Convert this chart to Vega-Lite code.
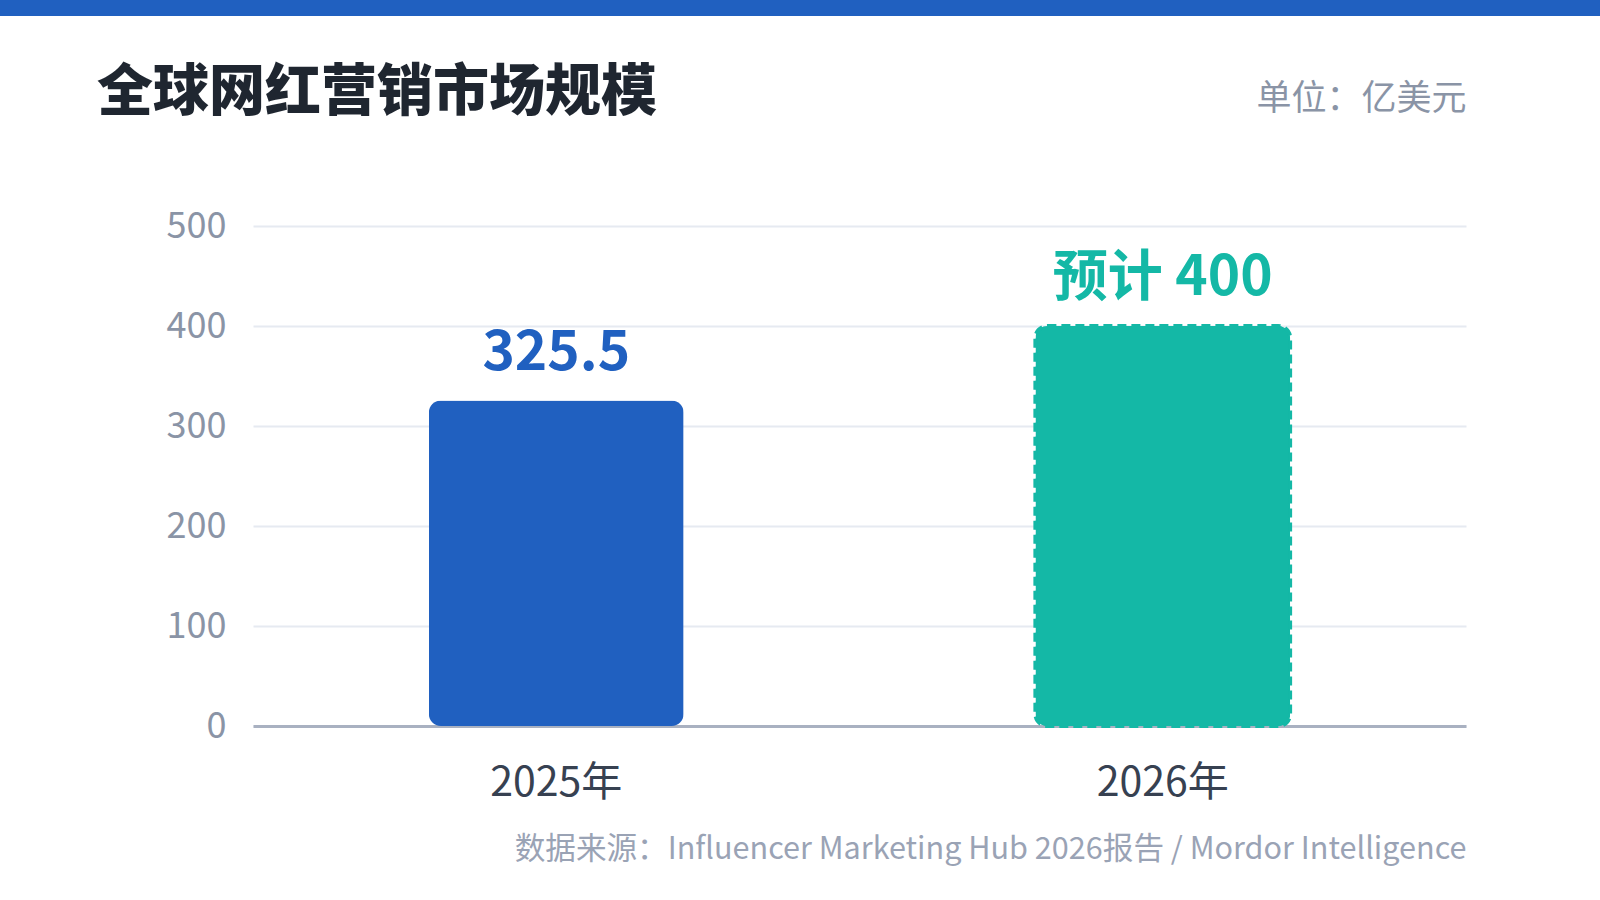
{
  "$schema": "https://vega.github.io/schema/vega-lite/v6.json",
  "description": "全球网红营销市场规模, 2025年与2026年(预计), 单位亿美元",
  "autosize": {"type": "none"},
  "padding": {"left": 253, "top": 226, "right": 134, "bottom": 174},
  "width": 1213,
  "height": 500,
  "background": "white",
  "title": {
    "text": "全球网红营销市场规模",
    "anchor": "start",
    "frame": "group",
    "dx": -156,
    "offset": -122,
    "fontSize": 56,
    "fontWeight": 900,
    "color": "#1F2630",
    "font": "Noto Sans CJK SC"
  },
  "data": {
    "values": [
      {"year": "2025年", "value": 325.5, "status": "实际", "label": "325.5"},
      {"year": "2026年", "value": 400, "status": "预计", "label": "预计 400"}
    ]
  },
  "config": {
    "font": "Noto Sans CJK SC",
    "view": {"stroke": null}
  },
  "encoding": {
    "x": {
      "field": "year",
      "type": "nominal",
      "sort": null,
      "scale": {"paddingInner": 0.58, "paddingOuter": 0.29},
      "axis": {
        "title": "数据来源：Influencer Marketing Hub 2026报告 / Mordor Intelligence",
        "titleX": 1213,
        "titleY": 123,
        "titleAlign": "right",
        "titleBaseline": "middle",
        "titleFontSize": 30.6,
        "titleFontWeight": "normal",
        "titleColor": "#9AA3B5",
        "labelAngle": 0,
        "labelFontSize": 41,
        "labelColor": "#374151",
        "labelBaseline": "middle",
        "labelPadding": 57,
        "ticks": false,
        "tickSize": 0,
        "domainColor": "#A9B1C1",
        "domainWidth": 3,
        "grid": false
      }
    },
    "y": {
      "field": "value",
      "type": "quantitative",
      "scale": {"domain": [0, 500]},
      "axis": {
        "values": [0, 100, 200, 300, 400, 500],
        "title": "单位：亿美元",
        "titleAngle": 0,
        "titleX": 1213,
        "titleY": -128,
        "titleAlign": "right",
        "titleBaseline": "middle",
        "titleFontSize": 35,
        "titleFontWeight": "normal",
        "titleColor": "#8A94A6",
        "labelFontSize": 36,
        "labelColor": "#8A94A6",
        "labelPadding": 27,
        "ticks": false,
        "tickSize": 0,
        "domain": false,
        "grid": true,
        "gridColor": "#E6EAF1",
        "gridWidth": 2
      }
    },
    "color": {
      "field": "status",
      "type": "nominal",
      "scale": {"domain": ["实际", "预计"], "range": ["#2060C0", "#14B8A6"]},
      "legend": null
    }
  },
  "layer": [
    {
      "data": {"values": [{"band": "header"}]},
      "mark": {"type": "rect", "color": "#2060C0"},
      "encoding": {
        "x": {"value": -253},
        "x2": {"value": 1347},
        "y": {"value": -226},
        "y2": {"value": -210},
        "color": {"value": "#2060C0"}
      }
    },
    {
      "transform": [{"filter": "datum.status === '实际'"}],
      "mark": {"type": "bar", "cornerRadius": 12}
    },
    {
      "transform": [{"filter": "datum.status === '预计'"}],
      "mark": {
        "type": "bar",
        "cornerRadius": 12,
        "stroke": "#14B8A6",
        "strokeWidth": 4,
        "strokeDash": [9, 5]
      }
    },
    {
      "mark": {"type": "text", "baseline": "alphabetic", "dy": -31, "fontSize": 55, "fontWeight": "bold"},
      "encoding": {
        "text": {"field": "label", "type": "nominal"}
      }
    }
  ]
}
